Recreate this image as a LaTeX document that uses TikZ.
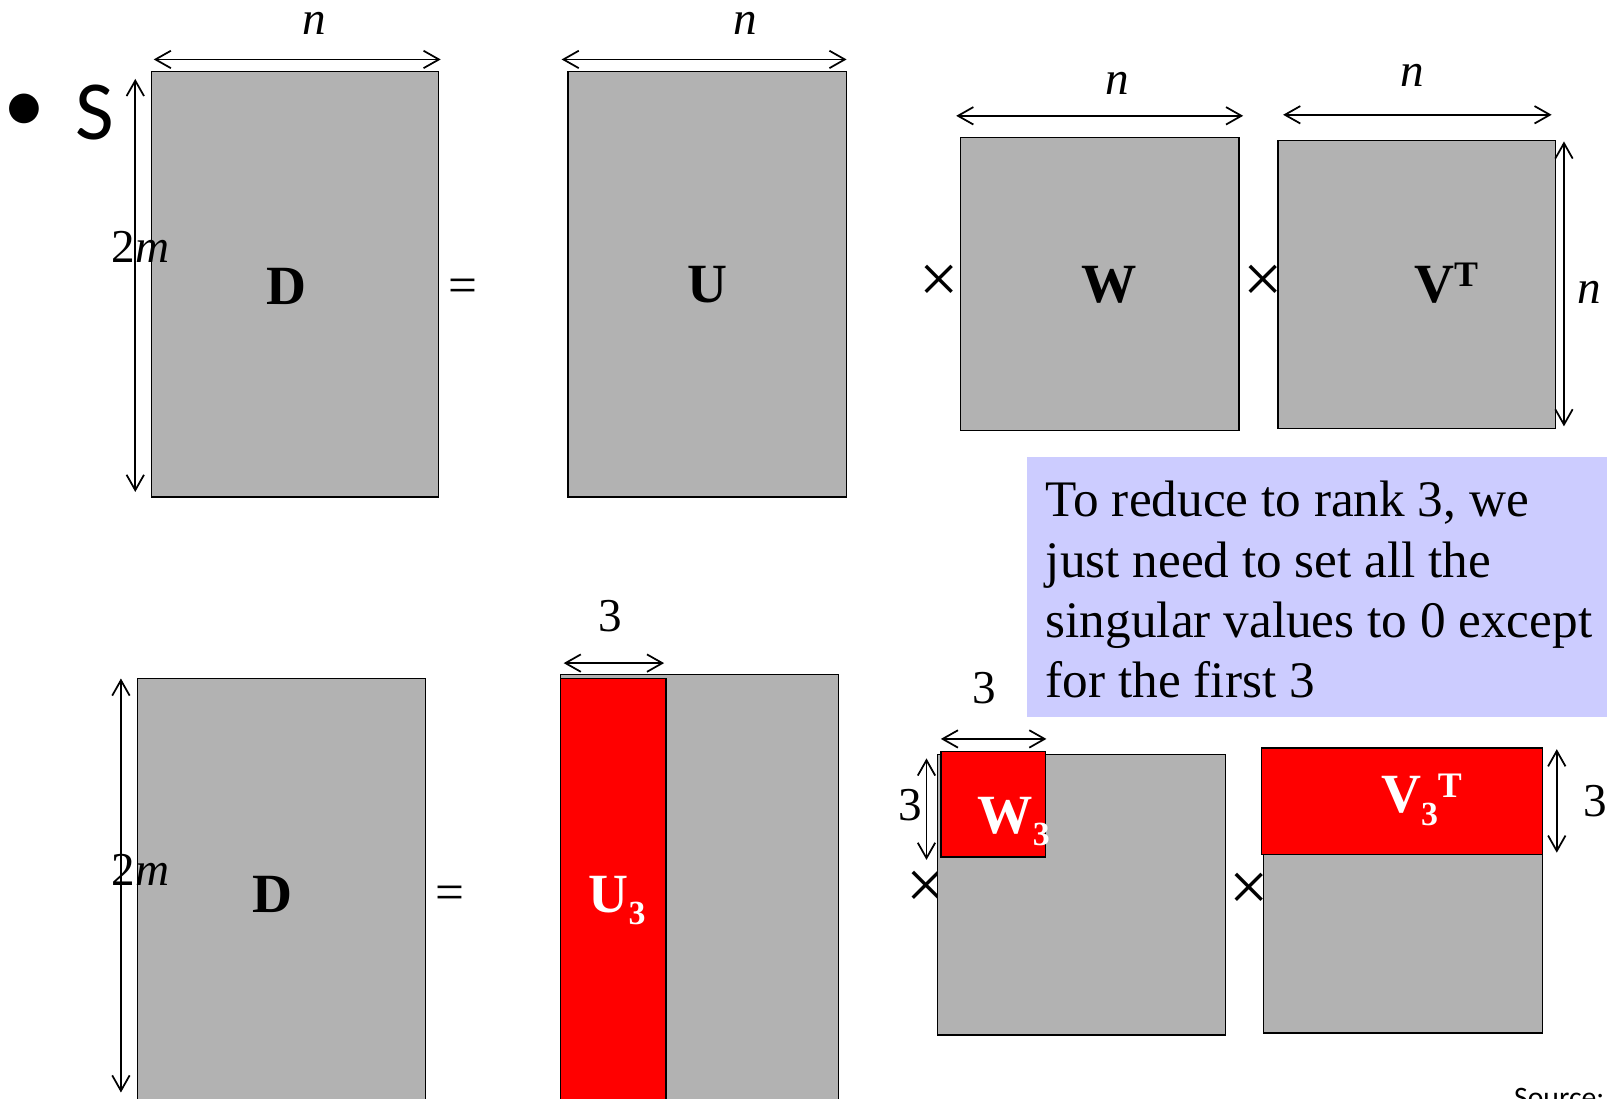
\documentclass[tikz,border=0pt]{standalone}
\usepackage{fontspec}
\setmainfont{Liberation Serif}
\newfontfamily\calibri{Carlito}
\usetikzlibrary{arrows.meta,fit}
\definecolor{matgray}{RGB}{178,178,178}
\definecolor{matred}{RGB}{255,0,0}
\definecolor{noteblue}{RGB}{204,204,255}
\newcommand{\lowsub}[1]{\raisebox{-6pt}{\fontsize{16.5}{19}\selectfont #1}}
\newcommand{\highsup}[1]{\raisebox{7.5pt}{\fontsize{17.5}{20}\selectfont #1}}
\tikzset{
  mat/.style={draw=black, line width=0.7pt, fill=matgray, inner sep=0pt, outer sep=0pt},
  redmat/.style={draw=black, line width=0.7pt, fill=matred, inner sep=0pt, outer sep=0pt},
  dimarrow/.style={line width=0.85pt, {Straight Barb[length=7.5pt,width=8.5pt]}-{Straight Barb[length=7.5pt,width=8.5pt]}},
  dimlab/.style={inner sep=0pt, font=\fontsize{23}{27}\selectfont},
  matlab/.style={inner sep=0pt, anchor=base, font=\fontsize{27}{32}\selectfont\bfseries},
  whitelab/.style={matlab, text=white},
  crosssym/.style={inner sep=0pt, font=\fontsize{34}{40}\selectfont},
  eqsym/.style={inner sep=0pt, font=\fontsize{25}{30}\selectfont},
}
\begin{document}
\begin{tikzpicture}[x=0.5pt, y=-0.5pt]
\useasboundingbox (0,0) rectangle (1568,1072);
\clip (0,0) rectangle (1568,1072);
\fill[white] (0,0) rectangle (1568,1072);

% bullet
\node[inner sep=0pt, font=\calibri\fontsize{41}{48}\selectfont] (bullet) at (24,111) {•};
\node[inner sep=0pt, anchor=base west, font=\calibri\fontsize{41}{48}\selectfont] (stxt) at (73,136) {S};

% ---------- top row ----------
\node[mat, fit={(148,70) (428,485)}] (D1) {};
\node[matlab] (D1l) at (280,297) {D};
\coordinate (D1ta) at (150,58); \coordinate (D1tb) at (430,58);
\draw[dimarrow] (D1ta) -- (D1tb);
\node[dimlab] (D1n) at (307,23) {\itshape n};
\coordinate (D1va) at (132,77); \coordinate (D1vb) at (132,480);
\draw[dimarrow] (D1va) -- (D1vb);
\node[dimlab] (D1m) at (137,241) {2\textit{m}};

\node[eqsym] (eq1) at (452,284) {=};

\node[mat, fit={(554,70) (826,485)}] (U1) {};
\node[matlab] (U1l) at (690,295) {U};
\coordinate (U1ta) at (548,58); \coordinate (U1tb) at (826,58);
\draw[dimarrow] (U1ta) -- (U1tb);
\node[dimlab] (U1n) at (727,23) {\itshape n};

\node[crosssym] (x1) at (916,277) {×};

\node[mat, fit={(937,134) (1209,420)}] (W1) {};
\node[matlab] (W1l) at (1082,295) {W};
\coordinate (W1ta) at (933,113); \coordinate (W1tb) at (1213,113);
\draw[dimarrow] (W1ta) -- (W1tb);
\node[dimlab] (W1n) at (1090,81) {\itshape n};

\node[crosssym] (x2) at (1232,277) {×};

\node[mat, fit={(1247,137) (1518,418)}] (V1) {};
\node[matlab] (V1l) at (1411,295) {V\highsup{T}};
\coordinate (V1ta) at (1252,112); \coordinate (V1tb) at (1514,112);
\draw[dimarrow] (V1ta) -- (V1tb);
\node[dimlab] (V1n) at (1378,74) {\itshape n};
\coordinate (V1va) at (1526,138); \coordinate (V1vb) at (1526,416);
\draw[dimarrow] (V1va) -- (V1vb);
\node[dimlab] (V1m) at (1551,285) {\itshape n};

% ---------- note ----------
\node[fill=noteblue, inner sep=0pt, outer sep=0pt, fit={(1002,446) (1580,700)}] (notebox) {};
\node[anchor=base west, align=left, inner sep=0pt, font=\fontsize{25}{29.5}\selectfont] (note) at (1020,681)
  {To reduce to rank 3, we\\just need to set all the\\singular values to 0 except\\for the first 3};

% ---------- bottom row ----------
\node[mat, fit={(134,662) (415,1085)}] (D2) {};
\node[matlab] (D2l) at (266,890) {D};
\coordinate (D2va) at (118,662); \coordinate (D2vb) at (118,1066);
\draw[dimarrow] (D2va) -- (D2vb);
\node[dimlab] (D2m) at (137,849) {2\textit{m}};

\node[eqsym] (eq2) at (439,876) {=};

\node[mat, fit={(547,658) (818,1085)}] (U2) {};
\node[redmat, fit={(547,662) (650,1085)}] (U2r) {};
\node[whitelab] (U2l) at (602,890) {U\lowsub{3}};
\coordinate (U2ta) at (550,647); \coordinate (U2tb) at (648,647);
\draw[dimarrow] (U2ta) -- (U2tb);
\node[dimlab] (U2n) at (595,601) {3};

\node[crosssym] (x3) at (904,868) {×};

\node[mat, fit={(915,736) (1196,1010)}] (W2) {};
\node[redmat, fit={(918,733) (1020,836)}] (W2r) {};
\node[whitelab] (W2l) at (989,813) {W\lowsub{3}};
\coordinate (W2ta) at (918,721); \coordinate (W2tb) at (1021,721);
\draw[dimarrow] (W2ta) -- (W2tb);
\node[dimlab] (W2n) at (960,671) {3};
\coordinate (W2va) at (904,740); \coordinate (W2vb) at (904,839);
\draw[dimarrow] (W2va) -- (W2vb);
\node[dimlab] (W2m) at (888,786) {3};

\node[crosssym] (x4) at (1219,870) {×};

\node[mat, fit={(1233,730) (1505,1008)}] (V2) {};
\node[redmat, fit={(1231,730) (1505,834)}] (V2r) {};
\node[whitelab] (V2l) at (1387,793) {V\lowsub{3}\highsup{T}};
\coordinate (V2va) at (1519,731); \coordinate (V2vb) at (1519,832);
\draw[dimarrow] (V2va) -- (V2vb);
\node[dimlab] (V2m) at (1557,782) {3};

% source
\node[anchor=base west, inner sep=0pt, font=\calibri\fontsize{14.5}{17}\selectfont] (src) at (1477,1081) {Source:};
\end{tikzpicture}
\end{document}
